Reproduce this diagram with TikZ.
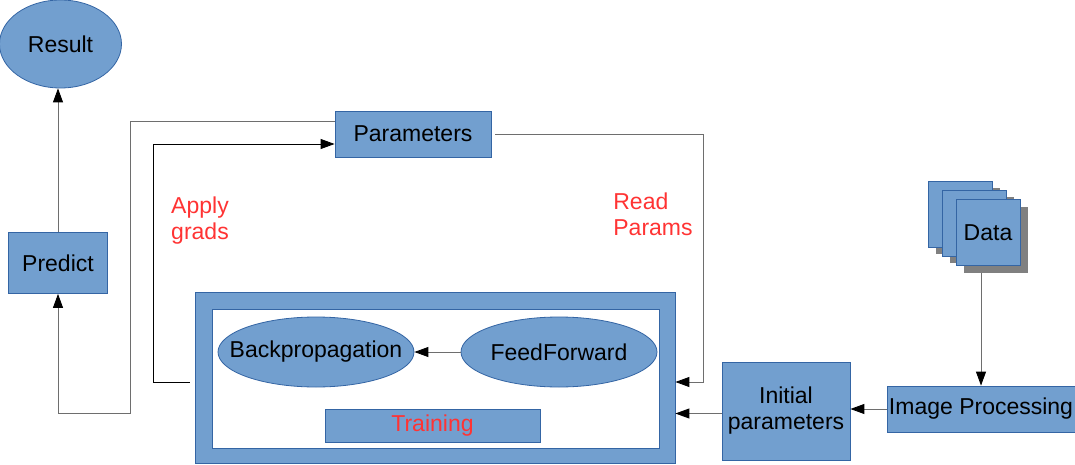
\documentclass[tikz,border=0pt]{standalone}
\usepackage{fontspec}
\setmainfont{Liberation Sans}
\usetikzlibrary{arrows.meta,shapes.geometric,shadows}
\definecolor{boxfill}{HTML}{729FCF}
\definecolor{boxline}{HTML}{3465A4}
\definecolor{labelred}{HTML}{FF3333}
\definecolor{wirecol}{HTML}{6E6E6E}
\begin{document}
\begin{tikzpicture}[x=1pt,y=-1pt,
    every node/.style={font=\fontsize{23}{26}\selectfont, inner sep=0pt},
    box/.style={rectangle, draw=boxline, fill=boxfill, line width=0.8pt},
    oval/.style={ellipse, draw=boxline, fill=boxfill, line width=0.8pt},
    sheet/.style={box, minimum width=64pt, minimum height=66pt,
      drop shadow={shadow xshift=8pt, shadow yshift=-7pt, fill=black!50, opacity=1}},
    wire/.style={draw=wirecol, line width=0.9pt, -{Triangle[length=14pt,width=10pt,color=black]}},
    note/.style={text=labelred, align=left}]
  \useasboundingbox (0,0) rectangle (1075,465);
  \node[oval, minimum width=122pt, minimum height=88pt] (result) at (60.5,44) {Result};
  \node[box, minimum width=99pt, minimum height=61pt] (predict) at (58,263) {Predict};
  \node[box, minimum width=156pt, minimum height=46pt] (params) at (413,134) {Parameters};
  \node[box, minimum width=480pt, minimum height=171pt] (training) at (435,378) {};
  \node[rectangle, draw=boxline, fill=white, line width=0.8pt,
    minimum width=447pt, minimum height=139pt] (inner) at (435.5,378.5) {};
  \node[oval, minimum width=196pt, minimum height=70pt,
    label={center:Backpropagation}] (backprop) at (316,352) {};
  \node[oval, minimum width=196pt, minimum height=70pt,
    label={center:FeedForward}] (feed) at (559,352) {};
  \node[box, minimum width=215pt, minimum height=33pt, text=labelred] (trainbar) at (432.5,425.5) {Training};
  \node[box, minimum width=128pt, minimum height=98pt, align=center] (initial) at (786,411) {Initial\\parameters};
  \node[box, minimum width=188pt, minimum height=46pt] (imgproc) at (981,409) {Image Processing};
  \node[sheet] (sheet1) at (960,214) {};
  \node[sheet] (sheet2) at (974,223) {};
  \node[sheet] (data) at (988,232.5) {Data};
  \node[note] (apply) at (200,221) {Apply\\grads};
  \node[note] (read) at (653,214) {Read\\Params};
  \begin{scope}[wire]
    \draw (predict) -- (predict.north |- result.south);
    \draw (feed) -- (backprop);
    \draw ([yshift=13pt]params.west) -| (130,413) -| (predict.south);
    \draw[draw=black, shorten <=5pt] ([yshift=-4pt]training.west) -| (153,144) -- ([yshift=-10pt]params.west);
    \draw[shorten <=4pt] (params.east) -| ([xshift=28pt,yshift=-4pt]training.east) -- ([yshift=-4pt]training.east);
    \draw ([yshift=-2.5pt]initial.west) -- ([yshift=-2.5pt]initial.west -| training.east);
    \draw (imgproc.west) -- (imgproc.west -| initial.east);
    \draw[shorten <=7pt] (imgproc.north |- data.south) -- (imgproc.north);
  \end{scope}
\end{tikzpicture}
\end{document}
